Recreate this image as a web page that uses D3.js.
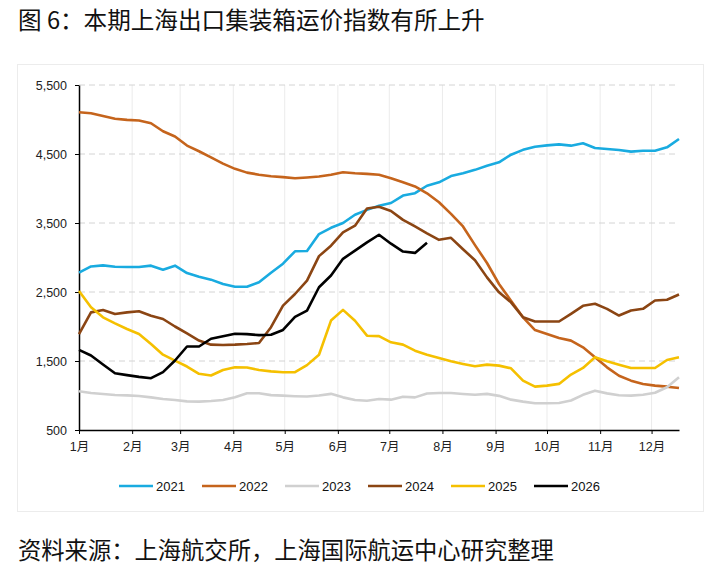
<!DOCTYPE html>
<html>
<head>
<meta charset="utf-8">
<script src="https://cdn.jsdelivr.net/npm/d3@7"></script>
<style>
  body { margin: 0; background: #fff; }
  svg { display: block; font-family: "Liberation Sans", Arial, "Noto Sans CJK SC", sans-serif; }
</style>
</head>
<body>
<svg id="chart" width="718" height="566"></svg>
<script>
// weekly readings, one point every 7 days from 1 Jan
const years = ['2021', '2022', '2023', '2024', '2025', '2026']
const colors = ['#19ABE0', '#C5641C', '#D0D0D0', '#8B4513', '#F5C000', '#000000']

const s2021 = [2780, 2870, 2886, 2867, 2862, 2862, 2882, 2824, 2882, 2775, 2720, 2679, 2616, 2577, 2575, 2640, 2780, 2910, 3090, 3095,
  3340, 3430, 3500, 3620, 3690, 3750, 3790, 3898, 3932, 4040, 4090, 4180, 4220, 4270, 4330, 4380, 4490, 4560, 4605, 4625,
  4640, 4621, 4655, 4587, 4572, 4558, 4534, 4548, 4548, 4597, 4717]
const s2022 = [5105, 5090, 5050, 5010, 4995, 4986, 4946, 4830, 4753, 4622, 4540, 4450, 4360, 4285, 4230, 4200, 4178, 4165, 4149, 4160,
  4173, 4200, 4236, 4220, 4212, 4200, 4150, 4090, 4030, 3930, 3800, 3633, 3450, 3180, 2920, 2616, 2374, 2133, 1949, 1891,
  1833, 1795, 1698, 1553, 1408, 1287, 1215, 1167, 1143, 1128, 1109]
const s2023 = [1062, 1036, 1022, 1007, 1002, 993, 973, 949, 935, 915, 911, 920, 935, 976, 1033, 1033, 1005, 998, 990, 985,
  1000, 1024, 973, 935, 925, 949, 940, 983, 973, 1030, 1036, 1036, 1022, 1010, 1024, 995, 940, 911, 887, 887,
  892, 927, 1010, 1070, 1031, 1003, 998, 1012, 1040, 1120, 1265]
const s2024 = [1891, 2205, 2239, 2181, 2205, 2220, 2157, 2109, 2000, 1900, 1797, 1737, 1732, 1737, 1746, 1761, 1990, 2302, 2471, 2664,
  3020, 3171, 3365, 3461, 3710, 3735, 3675, 3545, 3450, 3350, 3256, 3285, 3120, 2960, 2712, 2495, 2350, 2134, 2072, 2072,
  2072, 2184, 2300, 2330, 2256, 2159, 2231, 2256, 2377, 2387, 2463]
const s2025 = [2515, 2278, 2133, 2046, 1964, 1891, 1746, 1592, 1505, 1420, 1314, 1290, 1370, 1408, 1405, 1370, 1350, 1338, 1338, 1440,
  1590, 2086, 2241, 2084, 1867, 1860, 1771, 1737, 1650, 1592, 1545, 1495, 1457, 1423, 1447, 1433, 1394, 1215, 1128, 1143,
  1168, 1304, 1400, 1553, 1495, 1447, 1399, 1399, 1399, 1515, 1553]
const s2026 = [1662, 1580, 1450, 1323, 1295, 1270, 1251, 1338, 1507, 1710, 1710, 1822, 1860, 1894, 1890, 1875, 1880, 1950, 2140, 2231,
  2569, 2739, 2981, 3100, 3220, 3330, 3200, 3086, 3067, 3212]

const monthLabels = ['1月', '2月', '3月', '4月', '5月', '6月', '7月', '8月', '9月', '10月', '11月', '12月']
const monthStartDays = [0, 31, 59, 90, 120, 151, 181, 212, 243, 273, 304, 334]
const yTicks = [500, 1500, 2500, 3500, 4500, 5500]

const titleText = '图 6：本期上海出口集装箱运价指数有所上升'
const sourceText = '资料来源：上海航交所，上海国际航运中心研究整理'

const margin = { top: 85, right: 39, bottom: 136, left: 79 }
const width = 718 - margin.left - margin.right
const height = 566 - margin.top - margin.bottom

const svg = d3.select('#chart')

/**
 * Draws the title, the source line and the faint frame round the plot.
 */
function drawFrame () {
  svg.append('rect')
    .attr('x', 17.5).attr('y', 64.5)
    .attr('width', 686).attr('height', 447)
    .attr('fill', 'none')
    .attr('stroke', '#ececec')

  svg.append('text')
    .attr('x', 18).attr('y', 29)
    .attr('font-size', 23.6)
    .attr('fill', '#111')
    .style('font-family', '"Noto Sans CJK SC", sans-serif')
    .text(titleText)

  svg.append('text')
    .attr('x', 18).attr('y', 559)
    .attr('font-size', 23.3)
    .attr('fill', '#111')
    .style('font-family', '"Noto Sans CJK SC", sans-serif')
    .text(sourceText)
}

/**
 * Draws grid, axes and the yearly lines.
 *
 * @param {*} x The x scale (day of year)
 * @param {*} y The y scale (index value)
 */
function drawGraph (x, y) {
  const g = svg.append('g')
    .attr('id', 'graph-g')
    .attr('transform', 'translate(' + margin.left + ',' + margin.top + ')')

  // vertical month grid
  g.selectAll('.vgrid')
    .data(monthStartDays.slice(1))
    .enter()
    .append('line')
    .attr('class', 'vgrid')
    .attr('x1', d => x(d)).attr('x2', d => x(d))
    .attr('y1', 0).attr('y2', height)
    .attr('stroke', '#ebebeb')

  // dashed horizontal grid
  g.selectAll('.hgrid')
    .data(yTicks.slice(1))
    .enter()
    .append('line')
    .attr('class', 'hgrid')
    .attr('x1', 0).attr('x2', width)
    .attr('y1', d => y(d)).attr('y2', d => y(d))
    .attr('stroke', '#d4d4d4')
    .attr('stroke-dasharray', '6,4')

  const xAxis = d3.axisBottom(x)
    .tickValues(monthStartDays)
    .tickFormat((d, i) => monthLabels[i])
    .tickSize(4)
    .tickSizeOuter(0)
  const xg = g.append('g')
    .attr('transform', 'translate(0,' + height + ')')
    .call(xAxis)
  xg.select('.domain').attr('stroke', '#000').attr('stroke-width', 1.5)
  xg.selectAll('.tick line').attr('stroke', '#000')
  xg.selectAll('.tick text')
    .attr('font-size', 12.5)
    .attr('fill', '#222')
    .attr('dy', '1.1em')
    .style('font-family', '"Liberation Sans", "Noto Sans CJK SC", sans-serif')

  const yAxis = d3.axisLeft(y)
    .tickValues(yTicks)
    .tickFormat(d3.format(','))
    .tickSize(4)
    .tickSizeOuter(0)
  const yg = g.append('g').call(yAxis)
  yg.select('.domain').attr('stroke', '#000').attr('stroke-width', 1.5)
  yg.selectAll('.tick line').attr('stroke', '#000')
  yg.selectAll('.tick text')
    .attr('font-size', 12.5)
    .attr('fill', '#222')
    .attr('x', -12)

  const series = [s2021, s2022, s2023, s2024, s2025, s2026]
  const line = d3.line()
    .x((d, i) => x(i * 7))
    .y(d => y(d))

  g.selectAll('.year-line')
    .data(series)
    .enter()
    .append('path')
    .attr('class', 'year-line')
    .attr('d', d => line(d))
    .attr('fill', 'none')
    .attr('stroke', (d, i) => colors[i])
    .attr('stroke-width', 2.6)
    .attr('stroke-linejoin', 'round')
}

/**
 * Draws the legend row under the graph.
 */
function drawLegend () {
  const items = svg.selectAll('.legend-item')
    .data(years)
    .enter()
    .append('g')
    .attr('class', 'legend-item')
    .attr('transform', (d, i) => 'translate(' + (119 + i * 83) + ',486)')

  items.append('line')
    .attr('x1', 0).attr('x2', 34)
    .attr('stroke', (d, i) => colors[i])
    .attr('stroke-width', 2.6)

  items.append('text')
    .attr('x', 37).attr('y', 5)
    .attr('font-size', 13)
    .attr('fill', '#111')
    .text(d => d)
}

const x = d3.scaleLinear().domain([0, 350]).range([0, width])
const y = d3.scaleLinear().domain([500, 5500]).range([height, 0])

drawFrame()
drawGraph(x, y)
drawLegend()
</script>
</body>
</html>
